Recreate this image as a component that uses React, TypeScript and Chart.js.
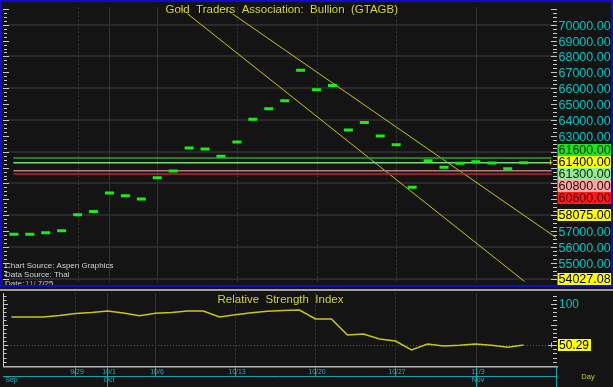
import React, { useEffect, useRef } from "react";
import { Chart, registerables } from "chart.js";

Chart.register(...registerables);

// ---------------- data ----------------
const dates = [
  "9/23", "9/24", "9/25", "9/26", "9/29", "9/30", "10/1", "10/2", "10/3",
  "10/6", "10/7", "10/8", "10/9", "10/10", "10/13", "10/14", "10/15", "10/16",
  "10/17", "10/20", "10/21", "10/22", "10/23", "10/24", "10/27", "10/28",
  "10/29", "10/30", "10/31", "11/3", "11/4", "11/5", "11/6",
];
const closes = [
  56805, 56805, 56903, 57026, 58029, 58231, 59394, 59229, 59027, 60355, 60783,
  62228, 62166, 61720, 62619, 64045, 64700, 65208, 67124, 65900, 66169, 63372,
  63843, 62986, 62436, 59761, 61432, 61028, 61273, 61371, 61291, 60924, 61300,
];
const rsiValues = [
  84.2, 84.2, 84.2, 86.1, 88.5, 89.7, 91.5, 89.1, 85.8, 88.7, 89.8, 91.5, 91.5,
  84.2, 86.9, 89.3, 91.1, 92.1, 92.7, 81.8, 81.8, 62.4, 63.6, 57.6, 55.1, 44.2,
  51.5, 49.1, 49.9, 51.5, 49.9, 47.5, 50.29,
];
const priceTickLabels = [
  55000, 56000, 57000, 58000, 59000, 60000, 61000, 62000, 63000, 64000, 65000,
  66000, 67000, 68000, 69000, 70000,
];
const priceGridValues = [54000, 56000, 58000, 60000, 62000, 64000, 66000, 68000, 70000];
const levelValues = [61600, 61300, 60800, 60600];
const markerValues = [61600, 61400, 61300, 60800, 60600, 58075, 54027.08];
const lastPrice = 61400;
const trendLower = [
  { x: 9.5, y: 71804 },
  { x: 34, y: 52278 },
];
const trendUpper = [
  { x: 12, y: 71884 },
  { x: 34.5, y: 56269 },
];
const levelFrom = -0.03;
const levelTo = 33.76;
const gridDates = ["9/29", "10/1", "10/6", "10/13", "10/20", "10/27", "11/3"];
const solidGridDates = ["10/1", "10/6", "11/3"];
const monthNames = ["Sep", "Oct", "Nov"];
const monthStarts = ["9/23", "10/1", "11/3"];
const rsiTickLabels = [100];
const rsiGridValues = [50];
const rsiLast = 50.29;
const titleText = "Gold  Traders  Association:  Bullion  (GTAGB)";
const rsiTitleText = "Relative  Strength  Index";
const sourceLines = ["Chart Source: Aspen Graphics", "Data Source: Thai"];
const dateParts = ["Date:", "11/", " 7/25"];
const axisUnitText = "Day";

const X_MIN = -0.4;
const X_MAX = 34.03;
const PRICE_MIN = 53825;
const PRICE_MAX = 71083;
const RSI_MIN = 23.6;
const RSI_MAX = 113.3;

// ---------------- styles ----------------
const BG = "#141414";
const FONT = '"Liberation Sans", Arial, sans-serif';
const GREEN = "#14f014";
const TREND = "#c8c810";
const CYAN = "#00c4c4";
const AXIS_CYAN = "#12a6ae";
const YELLOW_TXT = "#dcdc10";
const TICK = "#c8c8c8";
const GRID = "#2a2a2a";
const VGRID = "#343434";
const levelColors = ["#22a822", "#7ad87a", "#b87c7c", "#d01e1e"];
const markerBg = ["#22e022", "#ffff00", "#98e898", "#f4a8a8", "#ff1a1a", "#ffff00", "#ffff00"];
const markerFg = ["#003300", "#000000", "#003300", "#400000", "#400000", "#000000", "#000000"];

function hline(ctx: CanvasRenderingContext2D, x1: number, x2: number, y: number) {
  ctx.beginPath();
  ctx.moveTo(x1, y);
  ctx.lineTo(x2, y);
  ctx.stroke();
}
function vline(ctx: CanvasRenderingContext2D, x: number, y1: number, y2: number) {
  ctx.beginPath();
  ctx.moveTo(x, y1);
  ctx.lineTo(x, y2);
  ctx.stroke();
}

function drawVGrid(chart: any) {
  const { ctx, chartArea: a, scales } = chart;
  const x = scales.x;
  ctx.save();
  ctx.lineWidth = 1;
  gridDates.forEach((d) => {
    const px = Math.round(x.getPixelForValue(dates.indexOf(d))) + 0.5;
    const solid = solidGridDates.includes(d);
    ctx.strokeStyle = solid ? VGRID : "#3a3a3a";
    ctx.setLineDash(solid ? [] : [2, 2]);
    vline(ctx, px, a.top, a.bottom);
  });
  ctx.restore();
}

function drawPlus(ctx: CanvasRenderingContext2D, cx: number, cy: number) {
  ctx.save();
  ctx.strokeStyle = "#d0d020";
  ctx.lineWidth = 1;
  hline(ctx, cx - 2.5, cx + 2.5, Math.round(cy) + 0.5);
  vline(ctx, Math.round(cx) + 0.5, cy - 2.5, cy + 2.5);
  ctx.restore();
}

const topDecor = {
  id: "topDecor",
  beforeDraw(chart: any) {
    const { ctx, width, height } = chart;
    ctx.save();
    ctx.fillStyle = BG;
    ctx.fillRect(0, 0, width, height);
    ctx.restore();
  },
  beforeDatasetsDraw(chart: any) {
    const { ctx, chartArea: a, scales } = chart;
    const y = scales.y;
    ctx.save();
    ctx.strokeStyle = GRID;
    ctx.lineWidth = 2;
    priceGridValues.forEach((v) => {
      const py = Math.round(y.getPixelForValue(v));
      hline(ctx, a.left, a.right, py);
    });
    ctx.restore();
    drawVGrid(chart);
  },
  afterDatasetsDraw(chart: any) {
    const { ctx, chartArea: a, scales } = chart;
    const y = scales.y;
    ctx.save();
    // ticks
    ctx.strokeStyle = TICK;
    ctx.lineWidth = 1;
    for (let v = Math.ceil(y.min / 250) * 250; v <= y.max; v += 250) {
      const py = Math.round(y.getPixelForValue(v)) + 0.5;
      const major = v % 1000 === 0;
      hline(ctx, major ? 3 : 4, major ? 9 : 7, py);
      hline(ctx, a.right - (major ? 5 : 3), a.right + 1, py);
    }
    // cyan labels
    const LX = a.right + 2.5;
    ctx.font = `12.5px ${FONT}`;
    ctx.textBaseline = "middle";
    ctx.textAlign = "left";
    ctx.fillStyle = CYAN;
    priceTickLabels.forEach((v) => {
      ctx.fillText(v.toFixed(2), LX, y.getPixelForValue(v) + 1.5);
    });
    // marker boxes (stacked around last price)
    const H = 12;
    const pos = markerValues.map((v) => y.getPixelForValue(v) + 1);
    const anchor = markerValues.indexOf(lastPrice);
    for (let i = anchor - 1; i >= 0; i--) pos[i] = Math.min(pos[i], pos[i + 1] - H);
    for (let i = anchor + 1; i < pos.length; i++) pos[i] = Math.max(pos[i], pos[i - 1] + H);
    markerValues.forEach((v, i) => {
      ctx.fillStyle = markerBg[i];
      ctx.fillRect(a.right + 1.5, Math.round(pos[i] - H / 2), 54, H);
      ctx.fillStyle = markerFg[i];
      ctx.fillText(v.toFixed(2), LX, pos[i] + 0.5);
    });
    drawPlus(ctx, a.right - 6, y.getPixelForValue(lastPrice) + 1);
    // title
    ctx.font = `11.5px ${FONT}`;
    ctx.textAlign = "center";
    ctx.shadowColor = "rgba(0,0,0,0.9)";
    ctx.shadowOffsetX = 1;
    ctx.shadowOffsetY = 1;
    ctx.fillStyle = YELLOW_TXT;
    ctx.fillText(titleText, (a.left + a.right) / 2, 10);
    ctx.shadowColor = "transparent";
    // source text
    ctx.font = `8px ${FONT}`;
    ctx.textAlign = "left";
    ctx.fillStyle = "#d4d4d4";
    ctx.fillText(sourceLines[0], 5, 265.7);
    ctx.fillText(sourceLines[1], 5, 275);
    let tx = 5;
    dateParts.forEach((p, k) => {
      ctx.fillStyle = k === 1 ? "#a8a840" : "#d4d4d4";
      ctx.fillText(p, tx, 284);
      tx += ctx.measureText(p).width + (k === 0 ? 1 : 0);
    });
    // blue border
    ctx.strokeStyle = "#0c0cd0";
    ctx.lineWidth = 2;
    ctx.strokeRect(1, 1, chart.width - 2, 285);
    ctx.restore();
  },
};

const bottomDecor = {
  id: "bottomDecor",
  beforeDraw(chart: any) {
    const { ctx, width, height } = chart;
    ctx.save();
    ctx.fillStyle = BG;
    ctx.fillRect(0, 0, width, height);
    ctx.fillStyle = "#a0a0a0";
    ctx.fillRect(0, 0, width, 2);
    ctx.restore();
  },
  beforeDatasetsDraw(chart: any) {
    const { ctx, chartArea: a, scales } = chart;
    const y = scales.y;
    ctx.save();
    ctx.strokeStyle = "#5a5a5a";
    ctx.lineWidth = 1;
    ctx.setLineDash([1, 2]);
    rsiGridValues.forEach((v) => {
      hline(ctx, a.left, a.right, Math.round(y.getPixelForValue(v)) + 0.5);
    });
    ctx.restore();
    drawVGrid(chart);
  },
  afterDatasetsDraw(chart: any) {
    const { ctx, chartArea: a, scales, width, height } = chart;
    const x = scales.x;
    const y = scales.y;
    ctx.save();
    // ticks
    ctx.strokeStyle = TICK;
    ctx.lineWidth = 1;
    vline(ctx, 3.5, a.top, a.bottom);
    for (let v = Math.ceil(y.min / 5) * 5; v <= y.max; v += 5) {
      const py = Math.round(y.getPixelForValue(v)) + 0.5;
      const major = v % 25 === 0;
      hline(ctx, 3, major ? 8 : 6.5, py);
      hline(ctx, a.right - (major ? 5 : 3), a.right + 1, py);
    }
    // right labels
    const LX = a.right + 3;
    ctx.font = `12px ${FONT}`;
    ctx.textBaseline = "middle";
    ctx.textAlign = "left";
    ctx.fillStyle = CYAN;
    rsiTickLabels.forEach((v) => ctx.fillText(String(v), LX, y.getPixelForValue(v) + 0.5));
    const ly = y.getPixelForValue(rsiLast);
    const tw = ctx.measureText(rsiLast.toFixed(2)).width;
    ctx.fillStyle = "#ffff00";
    ctx.fillRect(a.right + 2, Math.round(ly - 6), tw + 3, 12);
    ctx.fillStyle = "#000";
    ctx.fillText(rsiLast.toFixed(2), LX, ly + 0.5);
    drawPlus(ctx, a.right - 5.5, ly);
    // title
    ctx.font = `11.5px ${FONT}`;
    ctx.textAlign = "center";
    ctx.shadowColor = "rgba(0,0,0,0.9)";
    ctx.shadowOffsetX = 1;
    ctx.shadowOffsetY = 1;
    ctx.fillStyle = YELLOW_TXT;
    ctx.fillText(rsiTitleText, (a.left + a.right) / 2, 11);
    ctx.shadowColor = "transparent";
    // x axis
    const axY = a.bottom;
    ctx.fillStyle = "#b4b4b4";
    ctx.fillRect(3, axY - 1, a.right - 1, 1.5);
    ctx.strokeStyle = AXIS_CYAN;
    ctx.fillStyle = "#1cb4bc";
    ctx.font = `7px ${FONT}`;
    gridDates.forEach((d) => {
      const px = Math.round(x.getPixelForValue(dates.indexOf(d))) + 0.5;
      vline(ctx, px, axY, axY + 9);
      ctx.fillText(d, px + 1.5, axY + 5.5);
    });
    hline(ctx, 3, a.right, axY + 9.5);
    monthStarts.forEach((d, k) => {
      const px = Math.round(x.getPixelForValue(dates.indexOf(d))) + 0.5;
      if (k > 0) vline(ctx, px, axY, height);
      ctx.fillText(monthNames[k], k === 0 ? px : px + 1.5, axY + 13.5);
    });
    vline(ctx, Math.round(a.right) + 0.5, axY, height);
    ctx.fillStyle = "#c8c820";
    ctx.font = `7.5px ${FONT}`;
    ctx.textAlign = "center";
    ctx.fillText(axisUnitText, 588, axY + 10);
    ctx.restore();
  },
};

export default function App() {
  const topRef = useRef<HTMLCanvasElement>(null);
  const botRef = useRef<HTMLCanvasElement>(null);

  useEffect(() => {
    const common = {
      responsive: false,
      animation: false as const,
      devicePixelRatio: 1,
      events: [] as any[],
      plugins: { legend: { display: false }, tooltip: { enabled: false } },
    };
    const top = new Chart(topRef.current!, {
      type: "scatter",
      data: {
        datasets: [
          {
            data: closes.map((v, i) => ({ x: i, y: v })),
            pointStyle: "line",
            pointRadius: 4.5,
            pointBorderWidth: 3,
            pointBorderColor: GREEN,
            pointBackgroundColor: GREEN,
            showLine: false,
          },
          ...levelValues.map((v, k) => ({
            data: [
              { x: levelFrom, y: v },
              { x: levelTo, y: v },
            ],
            showLine: true,
            borderColor: levelColors[k],
            borderWidth: 1.5,
            pointRadius: 0,
          })),
          { data: trendLower, showLine: true, borderColor: TREND, borderWidth: 1, pointRadius: 0 },
          { data: trendUpper, showLine: true, borderColor: TREND, borderWidth: 1, pointRadius: 0 },
        ],
      } as any,
      options: {
        ...common,
        layout: { padding: { left: 5, right: 57, top: 3, bottom: 4 } },
        scales: {
          x: { type: "linear", min: X_MIN, max: X_MAX, display: false },
          y: { type: "linear", min: PRICE_MIN, max: PRICE_MAX, display: false },
        },
      } as any,
      plugins: [topDecor],
    });
    const bot = new Chart(botRef.current!, {
      type: "scatter",
      data: {
        datasets: [
          {
            data: rsiValues.map((v, i) => ({ x: i, y: v })),
            showLine: true,
            borderColor: TREND,
            borderWidth: 1.5,
            pointRadius: 0,
          },
        ],
      } as any,
      options: {
        ...common,
        layout: { padding: { left: 5, right: 57, top: 4, bottom: 20 } },
        scales: {
          x: { type: "linear", min: X_MIN, max: X_MAX, display: false },
          y: { type: "linear", min: RSI_MIN, max: RSI_MAX, display: false },
        },
      } as any,
      plugins: [bottomDecor],
    });
    return () => {
      top.destroy();
      bot.destroy();
    };
  }, []);

  return (
    <div
      style={{
        position: "fixed",
        left: 0,
        top: 0,
        width: 613,
        height: 387,
        background: BG,
        overflow: "hidden",
      }}
    >
      <canvas
        ref={topRef}
        width={613}
        height={289}
        style={{ position: "absolute", left: 0, top: 0, width: 613, height: 289 }}
      />
      <canvas
        ref={botRef}
        width={613}
        height={98}
        style={{ position: "absolute", left: 0, top: 289, width: 613, height: 98 }}
      />
    </div>
  );
}
